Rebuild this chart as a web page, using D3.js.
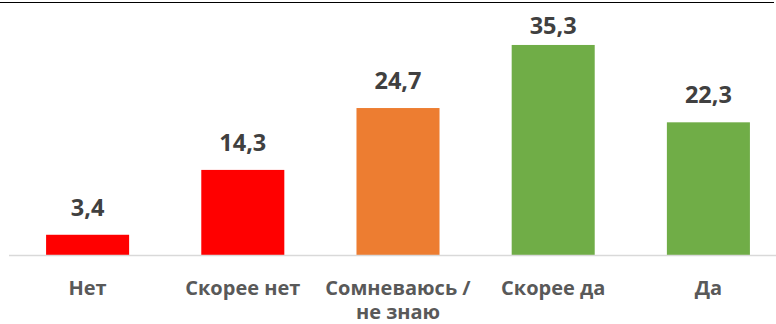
<!DOCTYPE html>
<html>
<head>
<meta charset="utf-8">
<script src="https://cdn.jsdelivr.net/npm/d3@7"></script>
<style>
  html, body { margin: 0; padding: 0; background: #fff; }
  svg { display: block; }
</style>
</head>
<body>
<svg id="chart" width="776" height="324"></svg>
<script>
// Survey answers and their shares, %
const categories = [["Нет"], ["Скорее нет"], ["Сомневаюсь /", "не знаю"], ["Скорее да"], ["Да"]];
const values = [3.4, 14.3, 24.7, 35.3, 22.3];
const barColors = ["#ff0000", "#ff0000", "#ed7d31", "#70ad47", "#70ad47"];

const svg = d3.select("#chart");
const font = "'Open Sans', 'DejaVu Sans', sans-serif";

const x = d3.scaleBand()
  .domain(d3.range(values.length))
  .range([10, 786])
  .paddingInner(0.465)
  .paddingOuter(0.2325);

const y = d3.scaleLinear().domain([0, 40]).range([255, 17]);

// thin rule along the top edge
svg.append("line")
  .attr("x1", 0).attr("x2", 774)
  .attr("y1", 2.5).attr("y2", 2.5)
  .attr("stroke", "#000").attr("stroke-width", 1.2);

// bars
svg.selectAll("rect.bar")
  .data(values)
  .join("rect")
  .attr("class", "bar")
  .attr("x", (d, i) => x(i))
  .attr("width", x.bandwidth())
  .attr("y", d => y(d))
  .attr("height", d => y(0) - y(d))
  .attr("fill", (d, i) => barColors[i]);

// category axis line
svg.append("line")
  .attr("x1", 9).attr("x2", 776)
  .attr("y1", y(0) + 0.5).attr("y2", y(0) + 0.5)
  .attr("stroke", "#d9d9d9").attr("stroke-width", 1.6);

// value labels above bars (kept inside the top of the plot)
svg.selectAll("text.value")
  .data(values)
  .join("text")
  .attr("class", "value")
  .attr("x", (d, i) => x(i) + x.bandwidth() / 2)
  .attr("y", d => Math.max(y(d) - 19, 34))
  .attr("text-anchor", "middle")
  .attr("font-family", font)
  .attr("font-weight", 700)
  .attr("font-size", 23.5)
  .attr("fill", "#404040")
  .text(d => d3.format(".1f")(d).replace(".", ","));

// category labels
const cat = svg.selectAll("text.cat")
  .data(categories)
  .join("text")
  .attr("class", "cat")
  .attr("x", (d, i) => x(i) + x.bandwidth() / 2)
  .attr("y", 295)
  .attr("text-anchor", "middle")
  .attr("font-family", font)
  .attr("font-weight", 700)
  .attr("font-size", 20)
  .attr("fill", "#595959");

cat.selectAll("tspan")
  .data(d => d)
  .join("tspan")
  .attr("x", function () { return d3.select(this.parentNode).attr("x"); })
  .attr("dy", (d, j) => j === 0 ? 0 : 24)
  .text(d => d);
</script>
</body>
</html>
